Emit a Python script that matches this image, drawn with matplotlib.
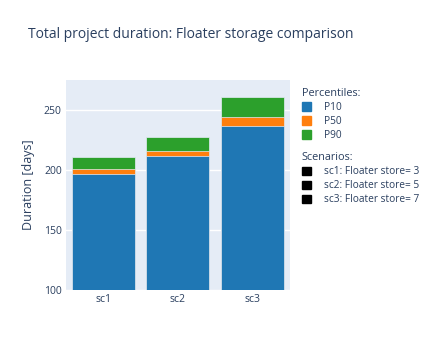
import matplotlib.pyplot as plt
from matplotlib.patches import Patch

plt.rcParams['font.family'] = ['Open Sans', 'DejaVu Sans']

scenarios = ["sc1", "sc2", "sc3"]
scenario_labels = ["sc1: Floater store= 3", "sc2: Floater store= 5", "sc3: Floater store= 7"]
p10 = [196.6, 211.5, 237.0]
p50 = [201.2, 216.2, 244.2]
p90 = [211.2, 227.1, 261.2]
yticks = [100, 150, 200, 250]

colors = {"P10": "#1f77b4", "P50": "#ff7f0e", "P90": "#2ca02c"}
txt = "#2a3f5f"

fig = plt.figure(figsize=(4.48, 3.54), dpi=100)
ax = fig.add_axes([0.147, 0.181, 0.5, 0.593])
ax.set_facecolor("#E5ECF6")

x = range(len(scenarios))
# overlay: highest percentile drawn first, so lower ones sit on top
for name, vals in [("P90", p90), ("P50", p50), ("P10", p10)]:
    ax.bar(x, vals, width=0.84, color=colors[name], edgecolor="#E5ECF6",
           linewidth=0.5, zorder=3)

ax.set_xlim(-0.5, 2.5)
ax.set_ylim(100, 275)
ax.set_xticks(list(x))
ax.set_xticklabels(scenarios)
ax.set_yticks(yticks)
ax.grid(axis="y", color="white", linewidth=1, zorder=0)
for s in ax.spines.values():
    s.set_visible(False)
ax.tick_params(length=0, colors=txt, labelsize=7.5, pad=3)
ax.set_ylabel("Duration [days]", color=txt, fontsize=9, labelpad=6)

fig.text(0.062, 0.893, "Total project duration: Floater storage comparison",
         color=txt, fontsize=10)

common = dict(loc="upper left", frameon=False, fontsize=7.3, title_fontsize=7.8,
              handlelength=0.9, handleheight=0.9, handletextpad=1.3,
              labelspacing=0.3, alignment="left", labelcolor=txt,
              borderpad=0.3)

h1 = [Patch(color=colors[k]) for k in ["P10", "P50", "P90"]]
leg1 = fig.legend(h1, ["P10", "P50", "P90"], title="Percentiles:",
                  bbox_to_anchor=(0.655, 0.775), **common)
leg1.get_title().set_color(txt)

h2 = [Patch(color="black") for _ in scenario_labels]
leg2 = fig.legend(h2, scenario_labels, title="Scenarios:",
                  bbox_to_anchor=(0.655, 0.593), **common)
leg2.get_title().set_color(txt)

fig.savefig("out.png", dpi=100)
